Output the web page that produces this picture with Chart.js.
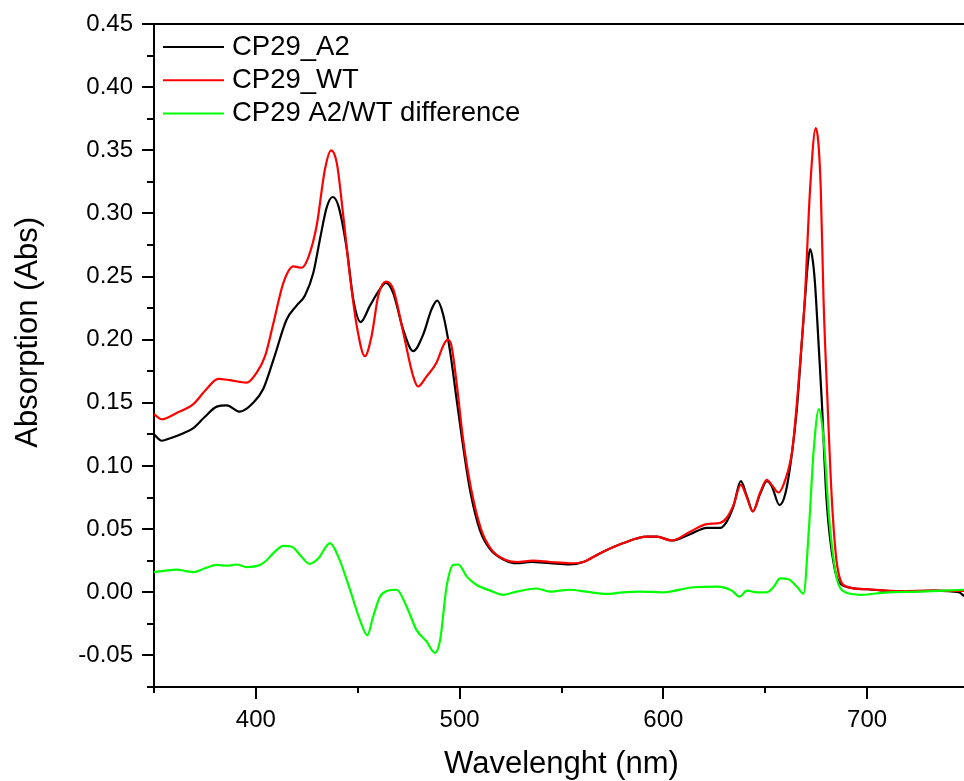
<!DOCTYPE html>
<html>
<head>
<meta charset="utf-8">
<script src="https://cdn.jsdelivr.net/npm/chart.js@4.4.1/dist/chart.umd.min.js"></script>
<style>
html,body{margin:0;padding:0;background:#fff;overflow:hidden;}
#wrap{position:relative;width:972px;height:781px;}
</style>
</head>
<body>
<div id="wrap"><canvas id="c"></canvas></div>
<script>
// ---- data ----
const seriesNames = ['CP29_A2', 'CP29_WT', 'CP29 A2/WT difference'];
const seriesColors = ['#000000', '#ff0000', '#00ff00'];

const a2Wl = [350,353.8,358,364.4,369.3,375,380.8,385.7,392.2,398.7,403.6,408.6,415.1,420,424.1,428.2,431.5,434.8,437.7,440.5,444.6,447.8,451.4,456,460.9,463.8,467.4,472.3,477.2,482.1,486.2,489,491.9,495.2,498.5,501.5,505.1,510,515,521.5,528,535,544.4,554,560.7,569,580.4,591.9,596.8,604.1,613.1,621.3,627.9,631.1,634.4,638,641,643.9,647.5,650.8,653.2,657,660,663.1,665.5,668.3,669.5,671,672,673.3,674.4,675.5,677.7,680.1,683.9,688.7,699.8,716.2,732.6,745,747.6];
const a2Abs = [0.125,0.120,0.122,0.126,0.130,0.139,0.147,0.148,0.143,0.150,0.161,0.184,0.216,0.227,0.235,0.253,0.280,0.305,0.313,0.306,0.272,0.232,0.214,0.227,0.240,0.245,0.237,0.208,0.191,0.204,0.224,0.231,0.220,0.192,0.153,0.118,0.081,0.049,0.034,0.026,0.023,0.024,0.023,0.022,0.024,0.031,0.039,0.044,0.044,0.041,0.046,0.051,0.051,0.056,0.068,0.088,0.076,0.064,0.078,0.088,0.084,0.069,0.079,0.110,0.145,0.206,0.232,0.262,0.2717,0.263,0.245,0.216,0.153,0.073,0.020,0.005,0.0024,0.0005,0.0013,0.000,-0.003];

const wtWl = [350,353.8,361.1,369.3,375.8,381.5,387.3,395.5,400.4,404.5,408.6,413.5,418.4,422.5,425.7,429.8,433.9,436.9,439.7,442.9,446.2,449.5,453.5,456.8,460.1,463.8,467.4,472.3,477.2,479.6,483.8,488.7,491.9,494.1,496,498.5,501.8,505.5,510.5,515.5,522,528,536,544.4,554.2,560.7,569,580.4,591.9,596.8,604.1,613.1,621.3,627.9,631.1,634.4,638,641,643.9,647.5,650.8,653.2,656.5,659.8,663.3,665.7,668.3,669.4,672.1,674.8,677.2,678.6,680.5,682.7,685.4,690,699.8,716.2,732.6,747.6];
const wtAbs = [0.141,0.137,0.142,0.149,0.161,0.169,0.168,0.166,0.174,0.187,0.213,0.245,0.258,0.257,0.265,0.290,0.335,0.350,0.340,0.298,0.250,0.211,0.187,0.203,0.235,0.246,0.240,0.206,0.171,0.163,0.171,0.182,0.195,0.200,0.195,0.166,0.120,0.083,0.050,0.034,0.026,0.024,0.025,0.024,0.023,0.024,0.031,0.039,0.044,0.044,0.041,0.048,0.054,0.055,0.059,0.069,0.085,0.075,0.064,0.079,0.089,0.085,0.079,0.089,0.113,0.153,0.206,0.232,0.322,0.3675,0.322,0.232,0.153,0.073,0.020,0.0045,0.0024,0.001,0.0013,0.001];

const diffWl = [350,355,361,365,369.3,375,380.8,386,390.6,395.5,402,405,408.6,413.5,417.6,422.5,426.3,430.7,436.4,440.5,446.2,451.1,454.7,457.6,460.9,464.2,469.1,474,478.9,483.8,487.9,490.4,493.6,496.9,499.4,503.5,508.4,515,521.5,528,537.8,544.4,554,562,572.2,580,588.6,600,614.8,626.3,633.6,637.4,641,646,650.8,654,657.3,661.4,665.5,668.8,671.3,673.8,676.3,678.8,681.3,684.6,688.7,696.9,710,726,747.6];
const diffAbs = [0.016,0.017,0.018,0.017,0.016,0.019,0.0217,0.021,0.022,0.020,0.0217,0.025,0.031,0.0367,0.036,0.028,0.0225,0.027,0.039,0.028,0.002,-0.022,-0.034,-0.019,-0.0035,0.001,0.002,-0.0114,-0.030,-0.039,-0.048,-0.038,0.0045,0.0217,0.022,0.0124,0.0058,0.0013,-0.002,0.0005,0.003,0.0005,0.002,0.0005,-0.0013,0.000,0.0005,0.000,0.004,0.0045,0.0013,-0.0035,0.0013,0.000,0.000,0.004,0.011,0.0103,0.0045,-0.001,0.047,0.113,0.145,0.118,0.060,0.015,0.0005,-0.002,0.000,0.0005,0.002];

const xTickValues = [350,400,450,500,550,600,650,700,750];
const xTickLabels = ['','400','','500','','600','','700',''];
const yTickValues = [-0.075,-0.05,-0.025,0,0.025,0.05,0.075,0.1,0.125,0.15,0.175,0.2,0.225,0.25,0.275,0.3,0.325,0.35,0.375,0.4,0.425,0.45];
const yTickLabels = ['','-0.05','','0.00','','0.05','','0.10','','0.15','','0.20','','0.25','','0.30','','0.35','','0.40','','0.45'];
const xTitle = 'Wavelenght (nm)';
const yTitle = 'Absorption (Abs)';

// ---- build ----
const FONT = '"Liberation Sans", Arial, sans-serif';
function pts(xs, ys){ return xs.map((x,i)=>({x:x, y:ys[i]})); }

const datasets = [
  {label: seriesNames[0], data: pts(a2Wl, a2Abs), borderColor: seriesColors[0], order: 3},
  {label: seriesNames[1], data: pts(wtWl, wtAbs), borderColor: seriesColors[1], order: 2},
  {label: seriesNames[2], data: pts(diffWl, diffAbs), borderColor: seriesColors[2], order: 1}
].map(d => Object.assign(d, {borderWidth: 2.2, pointRadius: 0, fill: false, cubicInterpolationMode: 'monotone'}));

const decor = {
  id: 'decor',
  afterDraw(chart){
    const ctx = chart.ctx, a = chart.chartArea;
    const xs = chart.scales.x, ys = chart.scales.y;
    ctx.save();
    ctx.strokeStyle = '#000';
    ctx.lineWidth = 2;
    ctx.lineCap = 'butt';
    // top frame
    ctx.beginPath(); ctx.moveTo(a.left - 1, a.top); ctx.lineTo(a.right + 2, a.top); ctx.stroke();
    // x ticks
    xTickValues.forEach((v, i) => {
      const p = Math.round(xs.getPixelForValue(v));
      const len = xTickLabels[i] ? 12 : 6;
      ctx.beginPath(); ctx.moveTo(p, a.bottom); ctx.lineTo(p, a.bottom + len); ctx.stroke();
    });
    // y ticks
    yTickValues.forEach((v, i) => {
      const p = Math.round(ys.getPixelForValue(v));
      const len = yTickLabels[i] ? 12 : 7;
      ctx.beginPath(); ctx.moveTo(a.left, p); ctx.lineTo(a.left - len, p); ctx.stroke();
    });
    // y title
    ctx.fillStyle = '#000';
    ctx.font = '31px ' + FONT;
    ctx.textAlign = 'center';
    ctx.textBaseline = 'middle';
    ctx.translate(28, a.top + (a.bottom - a.top) * 0.465);
    ctx.rotate(-Math.PI / 2);
    ctx.fillText(yTitle, 0, 0);
    ctx.restore();
    // legend
    ctx.save();
    ctx.font = '27.5px ' + FONT;
    ctx.textAlign = 'left';
    ctx.textBaseline = 'middle';
    chart.data.datasets.forEach((d, i) => {
      const y = a.top + 23 + i * 33.3;
      ctx.strokeStyle = d.borderColor; ctx.lineWidth = 2;
      ctx.beginPath(); ctx.moveTo(a.left + 9, y); ctx.lineTo(a.left + 70, y); ctx.stroke();
      ctx.fillStyle = '#000';
      ctx.fillText(d.label, a.left + 78, y);
    });
    ctx.restore();
  }
};

new Chart(document.getElementById('c'), {
  type: 'line',
  data: {datasets: datasets},
  options: {
    responsive: true,
    maintainAspectRatio: false,
    animation: false,
    layout: {padding: {top: 24, right: 3, left: 0, bottom: 0}},
    plugins: {legend: {display: false}, tooltip: {enabled: false}},
    scales: {
      x: {
        type: 'linear', min: 350, max: 750,
        afterBuildTicks: s => { s.ticks = xTickValues.map(v => ({value: v})); },
        afterFit: s => { s.height = 94; s.paddingLeft = 0; s.paddingRight = 0; },
        ticks: {
          autoSkip: false, maxRotation: 0, padding: 19, color: '#000',
          font: {family: FONT, size: 24},
          callback: (v) => { const i = xTickValues.indexOf(v); return i >= 0 ? xTickLabels[i] : ''; }
        },
        grid: {display: true, drawOnChartArea: false, drawTicks: false},
        border: {display: true, color: '#000', width: 2},
        title: {display: true, text: xTitle, color: '#000', font: {family: FONT, size: 31}, padding: {top: 0, bottom: -2}}
      },
      y: {
        type: 'linear', min: -0.075, max: 0.45,
        afterBuildTicks: s => { s.ticks = yTickValues.map(v => ({value: v})); },
        afterFit: s => { s.width = 154; s.paddingTop = 0; s.paddingBottom = 0; },
        ticks: {
          autoSkip: false, padding: 21, color: '#000',
          font: {family: FONT, size: 24},
          callback: (v) => { const i = yTickValues.findIndex(t => Math.abs(t - v) < 1e-9); return i >= 0 ? yTickLabels[i] : ''; }
        },
        grid: {display: true, drawOnChartArea: false, drawTicks: false},
        border: {display: true, color: '#000', width: 2}
      }
    }
  },
  plugins: [decor]
});
</script>
</body>
</html>
